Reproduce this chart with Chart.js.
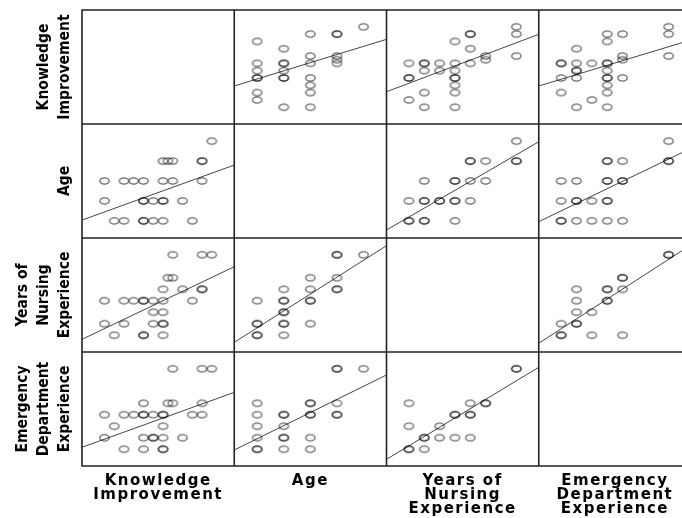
<!DOCTYPE html>
<html>
<head>
<meta charset="utf-8">
<title>Scatterplot matrix</title>
<script src="https://cdn.jsdelivr.net/npm/chart.js@4.4.1/dist/chart.umd.min.js"></script>
<style>
  html, body { margin: 0; padding: 0; background: #fff; overflow: hidden; }
  #wrap { width: 692px; height: 518px; }
</style>
</head>
<body>
<div id="wrap"><canvas id="matrix" width="692" height="518"></canvas></div>
<script>
// variable names (rows top->bottom, columns left->right)
const varNames = [
  ['Knowledge', 'Improvement'],
  ['Age'],
  ['Years of', 'Nursing', 'Experience'],
  ['Emergency', 'Department', 'Experience']
];
// axis range of each variable
const axisMin = [-2.3, 0.14, -1.46, -1.46];
const axisMax = [13.3, 5.86, 8.46, 8.46];

// point pairs, [first var, second var]
const kiAge = [[1,1],[2,1],[4,1],[4,1],[5,1],[6,1],[9,1],
  [0,2],[4,2],[4,2],[5,2],[6,2],[6,2],[8,2],
  [0,3],[2,3],[3,3],[4,3],[6,3],[7,3],[10,3],
  [6,4],[6.5,4],[7,4],[10,4],[10,4],
  [11,5]];
const kiYne = [[1,0],[4,0],[4,0],[6,0],
  [0,1],[2,1],[5,1],[6,1],[6,1],
  [5,2],[6,2],
  [0,3],[2,3],[3,3],[4,3],[4,3],[5,3],[6,3],[9,3],
  [6,4],[8,4],[10,4],[10,4],
  [6.5,5],[7,5],
  [7,7],[10,7],[11,7]];
const kiEde = [[2,0],[4,0],[6,0],[6,0],
  [0,1],[4,1],[5,1],[5,1],[6,1],[8,1],
  [1,2],[6,2],
  [0,3],[2,3],[3,3],[4,3],[4,3],[5,3],[6,3],[6,3],[9,3],[10,3],
  [4,4],[6.5,4],[7,4],[10,4],
  [7,7],[10,7],[11,7]];
const ageYne = [[1,0],[1,0],[1,1],[1,1],[1,3],
  [2,0],[2,1],[2,1],[2,2],[2,2],[2,3],[2,3],[2,4],
  [3,1],[3,3],[3,3],[3,4],[3,5],
  [4,4],[4,4],[4,5],[4,7],[4,7],
  [5,7]];
const ageEde = [[1,0],[1,0],[1,1],[1,2],[1,3],[1,4],
  [2,0],[2,1],[2,1],[2,2],[2,3],[2,3],
  [3,0],[3,1],[3,3],[3,3],[3,4],[3,4],
  [4,3],[4,3],[4,4],[4,7],[4,7],
  [5,7]];
const yneEde = [[0,0],[0,0],[0,2],[0,4],
  [1,0],[1,1],[1,1],
  [2,1],[2,2],
  [3,1],[3,3],[3,3],
  [4,1],[4,3],[4,3],[4,4],
  [5,4],[5,4],
  [7,7],[7,7]];

// fit lines per row: [y at left edge, y at right edge] for each column
const fitKI  = [null, [2.9, 9.29], [2.12, 9.97], [2.9, 9.2]];
const fitAge = [[1.04, 3.80], null, [0.54, 4.97], [0.96, 4.64]];
const fitYne = [[-0.36, 5.96], [-0.62, 7.79], null, [-0.70, 7.86]];
const fitEde = [[0.17, 4.95], [-0.07, 6.46], [-0.88, 7.13], null];

const pairs = { '0,1': kiAge, '0,2': kiYne, '0,3': kiEde, '1,2': ageYne, '1,3': ageEde, '2,3': yneEde };
const fitRows = [fitKI, fitAge, fitYne, fitEde];

// hollow ellipse marker
const ring = document.createElement('canvas');
ring.width = 13; ring.height = 10;
const rc = ring.getContext('2d');
rc.strokeStyle = 'rgba(0,0,0,0.6)';
rc.lineWidth = 1.3;
rc.beginPath();
rc.ellipse(6.5, 5, 4.7, 3.1, 0, 0, Math.PI * 2);
rc.stroke();

function cellPoints(r, c) {
  if (c < r) return pairs[c + ',' + r].map(p => ({ x: p[0], y: p[1] }));
  return pairs[r + ',' + c].map(p => ({ x: p[1], y: p[0] }));
}

function padLines(lines, n, atEnd) {
  const out = lines.slice();
  while (out.length < n) atEnd ? out.push('') : out.unshift('');
  return out;
}

const datasets = [];
for (let r = 0; r < 4; r++) {
  for (let c = 0; c < 4; c++) {
    if (r === c) continue;
    datasets.push({
      data: cellPoints(r, c),
      xAxisID: 'x' + c, yAxisID: 'y' + r,
      pointStyle: ring, pointRadius: 4, showLine: false
    });
    const fit = fitRows[r][c];
    datasets.push({
      data: [{ x: axisMin[c], y: fit[0] }, { x: axisMax[c], y: fit[1] }],
      xAxisID: 'x' + c, yAxisID: 'y' + r,
      showLine: true, borderColor: '#454545', borderWidth: 1, pointRadius: 0
    });
  }
}

const scales = {};
varNames.forEach((name, c) => {
  scales['x' + c] = {
    type: 'linear', position: 'bottom', stack: 'cols', stackWeight: 1,
    min: axisMin[c], max: axisMax[c],
    ticks: { display: false },
    grid: { display: false, z: 1 },
    border: { display: false },
    title: {
      display: true, text: padLines(name, 3, true), color: '#000',
      font: { family: 'DejaVu Sans', weight: 'bold', size: 15, lineHeight: '14px' },
      padding: { top: 0, bottom: 2 }
    },
    afterFit: (s) => { s.height = 52; }
  };
});
// left boxes are laid out in reverse order, so the top row goes in last
for (let r = 3; r >= 0; r--) {
  scales['y' + r] = {
    type: 'linear', position: 'left', stack: 'rows', stackWeight: 1,
    min: axisMin[r], max: axisMax[r],
    ticks: { display: false },
    grid: { display: false },
    border: { display: false },
    title: {
      display: true, text: padLines(varNames[r], 3, false), color: '#000',
      font: { family: "'DejaVu Sans Condensed', sans-serif", weight: 'bold', size: 15.5, lineHeight: '21px' },
      padding: { top: 12, bottom: 0 }
    },
    afterFit: (s) => { s.width = 82; }
  };
}

// cell frames + wider spacing for bottom titles
const cellBorders = {
  id: 'cellBorders',
  beforeDatasetsDraw(chart) {
    const { ctx, chartArea } = chart;
    ctx.save();
    ctx.strokeStyle = '#222';
    ctx.lineWidth = 1.6;
    ctx.beginPath();
    for (let i = 0; i < 4; i++) {
      const xs = chart.scales['x' + i];
      const ys = chart.scales['y' + i];
      [xs.left, xs.right].forEach(x => { ctx.moveTo(x, chartArea.top - 0.8); ctx.lineTo(x, chartArea.bottom + 0.8); });
      [ys.top, ys.bottom].forEach(y => { ctx.moveTo(chartArea.left - 0.8, y); ctx.lineTo(chartArea.right + 0.8, y); });
    }
    ctx.stroke();
    ctx.restore();
  },
  afterDatasetsDraw(chart) { chart.ctx.letterSpacing = '1.5px'; },
  afterDraw(chart) { chart.ctx.letterSpacing = '0px'; }
};

new Chart(document.getElementById('matrix'), {
  type: 'scatter',
  data: { datasets },
  options: {
    responsive: false,
    animation: false,
    events: [],
    layout: { autoPadding: false, padding: { top: 10, right: 1, left: 0, bottom: 0 } },
    plugins: { legend: { display: false }, tooltip: { enabled: false } },
    scales
  },
  plugins: [cellBorders]
});
</script>
</body>
</html>
